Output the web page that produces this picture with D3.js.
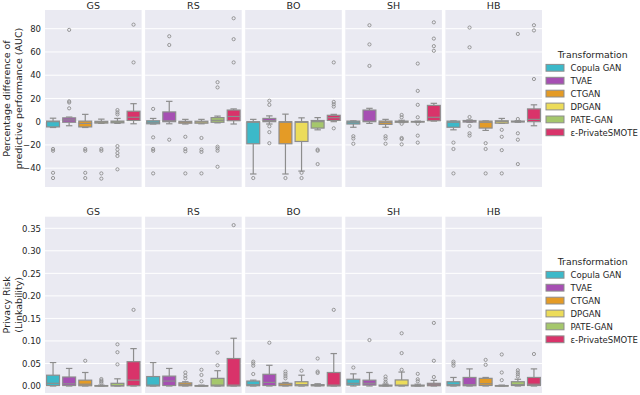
<!DOCTYPE html>
<html>
<head>
<meta charset="utf-8">
<script src="https://cdn.jsdelivr.net/npm/d3@7"></script>
<style>
  body { margin: 0; background: #fff; }
  text { font-family: "DejaVu Sans", sans-serif; fill: #262626; }
</style>
</head>
<body>
<div id="chart"></div>
<script>
var svgWidth = 640;
var svgHeight = 395;

// facet panels and the hue categories
var panels = ["GS", "RS", "BO", "SH", "HB"];
var transformations = ["Copula GAN", "TVAE", "CTGAN", "DPGAN", "PATE-GAN", "ε-PrivateSMOTE"];
var colors = ["#3cb9c9", "#a64fb3", "#e49b26", "#ecdc5a", "#a5c76c", "#d9336a"];

// box stats per transformation: [whisker low, q1, median, q3, whisker high, outliers]
// top row: percentage difference of predictive performance (AUC)
var perfGS = [
  [-5, -4.5, 0, 0.5, 3, [-23.5, -25, -44, -48.5]],
  [-3.5, -0.5, 1.5, 3.3, 4, [79, 17.5, 16.5, 11.5]],
  [-5, -4.5, -1.5, 0.5, 6.3, [-23.5, -25, -44, -48.5]],
  [-1.5, -1.2, -0.5, 0.3, 2.2, [-23.5, -25, -44.5, -49]],
  [-1.5, -1, -0.3, 0.5, 2.8, [10, 8, 6.3, -21, -24, -27, -29.5, -41]],
  [-1.8, 1, 3.8, 9, 15.5, [83.5, 51]]
];
var perfRS = [
  [-2, -1.8, -0.5, 0.8, 2.8, [11, -13.5, -23.5, -25, -44.5]],
  [-1.8, 0, 0.8, 8.4, 17.5, [73.5, 66, -15.5]],
  [-2, -1.3, -0.4, 0.3, 2, [-13, -23.5, -25.5, -44.5]],
  [-1.8, -1.3, -0.3, 0.4, 2, [-14, -24, -26, -44.5]],
  [-1, -0.5, 1.2, 3.5, 4.8, [34, 29.5, -21.5, -23, -25, -38.8]],
  [-2, 0.8, 4.5, 10, 11, [89, 71, 51]]
];
var perfBO = [
  [-45, -19, -0.5, 0, 2, [-48.5]],
  [-2, 0, 1, 2.8, 5, [18, 14.5, -4, -9, -18.5]],
  [-45, -19, -0.5, 0, 6.5, [-48.5]],
  [-42.5, -17, -0.5, 0, 3.3, [-44, -48.5]],
  [-7, -5.5, 0, 1, 3.5, [-24, -25, -36.5]],
  [0, 1, 3.4, 5.5, 6.3, [51, 17, 15, 13, -5.7]]
];
var perfSH = [
  [-4.8, -2, -0.5, 0.5, 0.7, [-12.5, -14.5, -19]],
  [-1.5, 0, 0.5, 10, 11.5, [83, 66.5, 48]],
  [-4.8, -2.3, -0.7, 0.5, 2, [-12.5, -14.5, -19]],
  [-0.8, -0.5, 0, 0.5, 1.2, [5.8, 3.8, -1.8, -14, -15, -19.5]],
  [-0.5, -0.3, 0, 0.2, 0.5, [50, 26.5, 14.5, 3.8, -1.8, -12, -18]],
  [0.5, 0.8, 3.8, 14, 15.8, [85.5, 71.5, 65, 61]]
];
var perfHB = [
  [-7, -4.8, -0.5, 0.5, 0.7, [-18, -23.5, -44.5]],
  [-0.5, -0.3, 0.5, 1, 1.5, [81, 64, 4, -3.7, -10, -12]],
  [-7.5, -5.5, -0.5, 0.5, 0.7, [-18.5, -23.5, -44.5]],
  [-1.5, -1.3, 0, 0.8, 2.8, [-7, -13, -24.5, -44.5]],
  [-0.5, -0.2, 0, 0.5, 0.8, [75.5, 2.3, -10, -15.5, -36.5]],
  [-3.5, 0, 2, 11, 14.5, [83, 78.5, 36.7]]
];

// bottom row: privacy risk (linkability)
var riskGS = [
  [0, 0.001, 0.006, 0.024, 0.052, []],
  [0, 0.001, 0.005, 0.020, 0.039, []],
  [0, 0.0005, 0.004, 0.013, 0.030, [0.056]],
  [0, 0, 0.0005, 0.001, 0.002, [0.0155, 0.012, 0.0095, 0.006]],
  [0, 0, 0.001, 0.006, 0.016, [0.0925, 0.075, 0.048]],
  [0, 0.0005, 0.013, 0.054, 0.083, [0.169]]
];
var riskRS = [
  [0, 0, 0.002, 0.021, 0.052, []],
  [0, 0.001, 0.011, 0.022, 0.039, []],
  [0, 0.0005, 0.003, 0.007, 0.0095, [0.030, 0.023, 0.017]],
  [0, 0, 0.0003, 0.001, 0.002, [0.036, 0.0245, 0.0105]],
  [0, 0, 0.002, 0.017, 0.034, [0.074, 0.046]],
  [0, 0, 0.002, 0.061, 0.106, [0.357]]
];
var riskBO = [
  [0, 0.0005, 0.003, 0.011, 0.013, [0.054, 0.050, 0.045, 0.0266]],
  [0, 0.001, 0.008, 0.026, 0.046, [0.096]],
  [0, 0.0005, 0.002, 0.006, 0.008, [0.032, 0.027, 0.022, 0.017]],
  [0, 0.0005, 0.003, 0.0095, 0.024, [0.034]],
  [0, 0.0005, 0.001, 0.003, 0.005, [0.061, 0.032, 0.029]],
  [0, 0, 0.002, 0.030, 0.072, [0.169]]
];
var riskSH = [
  [0, 0.002, 0.006, 0.015, 0.027, [0.041]],
  [0, 0.002, 0.006, 0.013, 0.030, [0.102]],
  [0, 0, 0.0005, 0.002, 0.004, [0.021, 0.015, 0.0095, 0.006]],
  [0, 0.0005, 0.002, 0.0135, 0.031, [0.117, 0.073, 0.036]],
  [0, 0, 0.0005, 0.002, 0.004, [0.027, 0.015, 0.0105]],
  [0, 0.0005, 0.003, 0.006, 0.0125, [0.140, 0.056, 0.020]]
];
var riskHB = [
  [0, 0.0005, 0.003, 0.0095, 0.019, [0.054, 0.050, 0.045]],
  [0, 0.0005, 0.003, 0.019, 0.038, []],
  [0, 0.001, 0.005, 0.017, 0.019, [0.058, 0.047]],
  [0, 0, 0.0005, 0.001, 0.002, [0.070, 0.030, 0.013]],
  [0, 0.001, 0.003, 0.0095, 0.015, [0.035, 0.030, 0.026, 0.021]],
  [0, 0.001, 0.004, 0.019, 0.038, [0.071]]
];

var perfTicks = [-40, -20, 0, 20, 40, 60, 80];
var riskTicks = [0, 0.05, 0.1, 0.15, 0.2, 0.25, 0.3, 0.35];

var rows = [
  { data: [perfGS, perfRS, perfBO, perfSH, perfHB], domain: [-56.2, 96.1], top: 10, bottom: 187,
    ticks: perfTicks, fmt: d => String(d).replace("-", "\u2212"),
    label: ["Percentage difference of", "predictive performance (AUC)"],
    titleY: 8.5, legendY: 57.5 },
  { data: [riskGS, riskRS, riskBO, riskSH, riskHB], domain: [-0.0155, 0.3757], top: 216.7, bottom: 393,
    ticks: riskTicks, fmt: d3.format(".2f"),
    label: ["Privacy Risk", "(Linkability)"],
    titleY: 214.5, legendY: 264.5 }
];

var edge = "#8d8d8d";

var svg = d3.select("#chart")
  .append("svg")
  .attr("width", svgWidth)
  .attr("height", svgHeight);

// facet positions
var panelScale = d3.scaleBand()
  .domain(panels)
  .range([45, 542])
  .paddingInner(0.035);

var xScale = d3.scaleBand()
  .domain(transformations)
  .range([0, panelScale.bandwidth()]);

var boxW = xScale.bandwidth() * 0.8;

rows.forEach(function(row) {
  var yScale = d3.scaleLinear()
    .domain(row.domain)
    .range([row.bottom, row.top]);

  panels.forEach(function(p, pi) {
    var g = svg.append("g")
      .attr("transform", `translate(${panelScale(p)},0)`);

    g.append("rect")
      .attr("x", 0)
      .attr("y", row.top)
      .attr("width", panelScale.bandwidth())
      .attr("height", row.bottom - row.top)
      .attr("fill", "#eaeaf2");

    // white grid
    g.selectAll(".grid")
      .data(row.ticks)
      .enter()
      .append("line")
      .attr("x1", 0)
      .attr("x2", panelScale.bandwidth())
      .attr("y1", d => yScale(d))
      .attr("y2", d => yScale(d))
      .attr("stroke", "#fff")
      .attr("stroke-width", 1);

    g.append("text")
      .attr("x", panelScale.bandwidth() / 2)
      .attr("y", row.titleY)
      .attr("text-anchor", "middle")
      .attr("font-size", "9.5px")
      .text(p);

    var stats = row.data[pi];
    stats.forEach(function(s, i) {
      var cx = xScale(transformations[i]) + xScale.bandwidth() / 2;
      var bg = g.append("g");

      // whiskers
      bg.append("line")
        .attr("x1", cx).attr("x2", cx)
        .attr("y1", yScale(s[0])).attr("y2", yScale(s[1]))
        .attr("stroke", edge).attr("stroke-width", 1.2);
      bg.append("line")
        .attr("x1", cx).attr("x2", cx)
        .attr("y1", yScale(s[3])).attr("y2", yScale(s[4]))
        .attr("stroke", edge).attr("stroke-width", 1.2);
      [s[0], s[4]].forEach(function(v) {
        bg.append("line")
          .attr("x1", cx - boxW / 4).attr("x2", cx + boxW / 4)
          .attr("y1", yScale(v)).attr("y2", yScale(v))
          .attr("stroke", edge).attr("stroke-width", 1.2);
      });

      bg.append("rect")
        .attr("x", cx - boxW / 2)
        .attr("y", yScale(s[3]))
        .attr("width", boxW)
        .attr("height", Math.max(yScale(s[1]) - yScale(s[3]), 0.6))
        .attr("fill", colors[i])
        .attr("stroke", edge)
        .attr("stroke-width", 1.2);

      bg.append("line")
        .attr("x1", cx - boxW / 2).attr("x2", cx + boxW / 2)
        .attr("y1", yScale(s[2])).attr("y2", yScale(s[2]))
        .attr("stroke", edge).attr("stroke-width", 1.2);

      bg.selectAll("circle")
        .data(s[5])
        .enter()
        .append("circle")
        .attr("cx", cx)
        .attr("cy", d => yScale(d))
        .attr("r", 1.6)
        .attr("fill", "none")
        .attr("stroke", edge)
        .attr("stroke-width", 0.9);
    });
  });

  // y axis tick labels on the first panel only
  var axis = svg.append("g")
    .attr("transform", `translate(${panelScale(panels[0])},0)`)
    .call(d3.axisLeft(yScale).tickValues(row.ticks).tickFormat(row.fmt).tickSize(0).tickPadding(4));
  axis.select(".domain").remove();
  axis.selectAll("text")
    .attr("font-family", "DejaVu Sans")
    .attr("font-size", "8.5px")
    .attr("fill", "#262626");

  var midY = (row.top + row.bottom) / 2;
  row.label.forEach(function(line, li) {
    svg.append("text")
      .attr("transform", `translate(${10 + li * 12},${midY}) rotate(-90)`)
      .attr("text-anchor", "middle")
      .attr("font-size", "9.5px")
      .text(line);
  });

  // legend
  var lg = svg.append("g");
  lg.append("text")
    .attr("x", 592.7)
    .attr("y", row.legendY)
    .attr("text-anchor", "middle")
    .attr("font-size", "9.3px")
    .text("Transformation");
  transformations.forEach(function(t, i) {
    var ry = row.legendY + 10.3 + i * 12.9;
    lg.append("rect")
      .attr("x", 546)
      .attr("y", ry - 3.4)
      .attr("width", 18)
      .attr("height", 6.8)
      .attr("fill", colors[i])
      .attr("stroke", edge)
      .attr("stroke-width", 1);
    lg.append("text")
      .attr("x", 570.5)
      .attr("y", ry + 3.2)
      .attr("font-size", "8.5px")
      .text(t);
  });
});
</script>
</body>
</html>
